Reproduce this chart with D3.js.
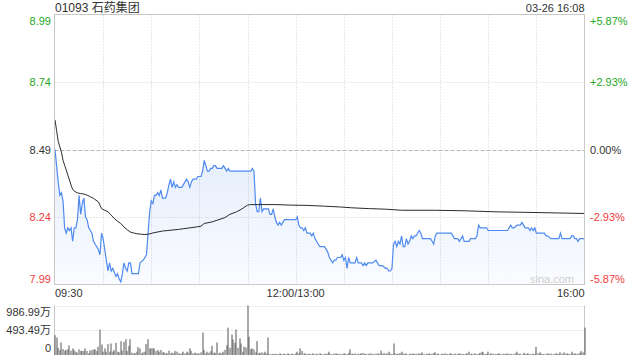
<!DOCTYPE html>
<html><head><meta charset="utf-8">
<script src="https://cdn.jsdelivr.net/npm/d3@7"></script>
<style>
body{margin:0;background:#fff}
svg{display:block}
text{font-family:"Liberation Sans",Arial,"Noto Sans CJK SC",sans-serif}
</style>
</head><body>
<svg id="c" width="640" height="360"></svg>
<script>
const title = "01093 石药集团";
const stamp = "03-26 16:08";
const priceTicks = [8.99, 8.74, 8.49, 8.24, 7.99];
const pctTicks = ["+5.87%", "+2.93%", "0.00%", "-2.93%", "-5.87%"];
const timeTickMinutes = [0, 150, 330];
const timeTickLabels = ["09:30", "12:00/13:00", "16:00"];
const volTicks = [986.99, 493.49, 0];
const volTickLabels = ["986.99万", "493.49万", "0"];
const prevClose = 8.49;

// [minute since 09:30 (lunch removed), price]
const price = [
[0,8.49],[2,8.37],[3,8.32],[4,8.33],[5,8.30],[6,8.20],[7,8.18],[8,8.20],[9,8.19],[10,8.20],
[11,8.15],[12,8.20],[13,8.20],[14,8.23],[15,8.32],[16,8.25],[17,8.29],[18,8.31],[19,8.24],[20,8.23],
[21,8.20],[22,8.19],[23,8.18],[24,8.15],[25,8.14],[26,8.13],[27,8.12],[28,8.10],[29,8.18],[30,8.16],
[31,8.12],[32,8.08],[33,8.04],[34,8.07],[35,8.04],[36,8.05],[38,8.02],[39,8.03],[40,8.01],[41,8.00],
[42,8.03],[43,8.07],[44,8.05],[45,8.04],[46,8.07],[47,8.07],[48,8.03],[49,8.03],[51,8.03],[52,8.03],
[53,8.07],[55,8.08],[56,8.09],[57,8.10],[58,8.18],[59,8.26],[60,8.30],[61,8.29],[62,8.32],[63,8.32],
[64,8.33],[65,8.32],[66,8.34],[67,8.31],[68,8.31],[69,8.31],[70,8.33],[71,8.36],[72,8.38],[73,8.35],
[74,8.37],[75,8.35],[76,8.36],[77,8.35],[78,8.35],[79,8.35],[80,8.36],[82,8.38],[83,8.37],[84,8.35],
[85,8.37],[86,8.38],[87,8.38],[88,8.38],[89,8.39],[90,8.39],[91,8.39],[92,8.41],[93,8.45],[94,8.43],
[95,8.41],[96,8.41],[97,8.42],[98,8.42],[99,8.43],[100,8.43],[101,8.42],[102,8.42],[103,8.42],[104,8.42],
[105,8.43],[106,8.42],[107,8.41],[108,8.42],[109,8.41],[122,8.41],[123,8.42],[124,8.41],[125,8.29],[126,8.26],
[127,8.26],[128,8.31],[129,8.26],[130,8.27],[131,8.27],[133,8.27],[134,8.25],[135,8.25],[136,8.27],[137,8.24],
[138,8.22],[139,8.21],[140,8.22],[141,8.21],[142,8.22],[143,8.23],[150,8.23],
[151,8.24],[152,8.21],[153,8.20],[154,8.20],[155,8.19],[156,8.20],[157,8.18],[158,8.18],[159,8.18],[160,8.17],
[161,8.18],[162,8.16],[164,8.14],[165,8.13],[166,8.13],[167,8.13],[168,8.13],[169,8.12],[170,8.11],[171,8.09],
[172,8.08],[173,8.07],[174,8.08],[175,8.08],[176,8.09],[177,8.09],[178,8.09],[179,8.10],[180,8.08],[181,8.09],
[182,8.05],[183,8.09],[184,8.07],[185,8.07],[187,8.07],[188,8.09],[189,8.07],[190,8.07],[191,8.07],[192,8.06],
[193,8.07],[194,8.06],[195,8.07],[197,8.07],[198,8.07],[200,8.08],[201,8.07],[202,8.06],[204,8.06],[206,8.05],
[207,8.05],[208,8.04],[209,8.04],[210,8.05],[211,8.14],[212,8.15],[213,8.13],[214,8.15],[215,8.14],[216,8.17],
[217,8.13],[218,8.13],[219,8.16],[220,8.14],[221,8.15],[222,8.17],[223,8.16],[224,8.17],[225,8.17],[226,8.18],
[227,8.19],[228,8.18],[229,8.16],[231,8.16],[233,8.16],[234,8.16],[235,8.15],[236,8.14],[237,8.17],[238,8.18],
[239,8.18],[240,8.18],[241,8.18],[242,8.18],[243,8.18],[245,8.18],[247,8.18],[248,8.17],[249,8.16],[251,8.16],
[252,8.15],[253,8.16],[254,8.17],[255,8.15],[256,8.15],[258,8.15],[259,8.16],[261,8.16],[262,8.16],[263,8.17],
[264,8.21],[265,8.20],[269,8.20],[270,8.19],[271,8.19],[282,8.19],[283,8.20],[284,8.21],[285,8.20],[286,8.20],
[288,8.21],[290,8.21],[291,8.22],[292,8.21],[293,8.20],[294,8.20],[295,8.20],[296,8.19],[297,8.20],[298,8.19],
[299,8.20],[300,8.18],[303,8.18],[305,8.18],[306,8.17],[307,8.17],[309,8.16],[313,8.16],[314,8.16],[315,8.18],
[316,8.16],[321,8.16],[322,8.17],[323,8.17],[324,8.16],[325,8.16],[326,8.15],[327,8.16],[330,8.16]
];

const avgPrice = [
[0,8.60],[1,8.56],[2,8.52],[4,8.48],[5,8.45],[6,8.432],[7,8.414],[8,8.395],[9,8.377],[10,8.358],
[11,8.343],[12,8.336],[14,8.329],[16,8.327],[18,8.325],[20,8.321],[22,8.315],[24,8.309],[27,8.296],[28,8.284],
[29,8.271],[31,8.265],[33,8.259],[35,8.247],[37,8.234],[39,8.224],[41,8.216],[43,8.203],[45,8.193],[47,8.184],
[49,8.181],[51,8.178],[54,8.176],[56,8.175],[58,8.176],[61,8.181],[67,8.188],[77,8.194],[88,8.203],[91,8.206],
[93,8.216],[98,8.222],[106,8.238],[109,8.250],[113,8.259],[116,8.268],[120,8.284],[122,8.286],[137,8.286],[147,8.284],
[157,8.283],[168,8.280],[178,8.277],[185,8.274],[196,8.271],[206,8.269],[216,8.265],[237,8.265],[255,8.263],[276,8.259],
[296,8.257],[330,8.253]
];

// volume per minute, in 万 shares, minute 0..330
const volume = [
395,349,145,99,250,118,86,99,118,191,
86,132,99,66,46,112,86,79,79,132,
79,33,92,99,112,112,79,165,507,211,
66,132,66,217,66,230,66,99,243,66,
53,276,86,263,316,79,184,316,46,33,
33,66,158,132,33,53,66,217,316,132,
132,132,132,79,99,66,99,53,53,33,
33,86,33,46,33,79,66,33,20,33,
66,33,66,46,132,79,33,46,33,33,
26,53,447,99,33,66,46,79,184,46,46,
250,33,46,33,66,99,197,546,145,408,
309,243,507,145,329,230,66,165,151,987,
362,118,132,112,53,276,33,46,53,33,
66,33,349,20,13,
20,26,13,20,33,20,13,26,20,33,20,13,26,20,33,
66,33,132,79,26,33,20,26,13,20,33,20,26,13,33,
20,13,26,20,33,66,20,13,26,33,20,26,13,20,33,
26,20,40,112,26,20,33,13,26,20,33,40,26,20,13,
26,33,20,13,26,33,20,86,26,40,20,33,66,26,20,
230,33,20,26,40,66,26,20,33,13,26,20,33,20,26,
20,33,26,53,20,13,26,33,20,26,40,53,20,26,13,
26,20,33,20,13,26,33,20,26,13,20,33,26,20,13,
26,33,66,20,26,13,33,20,26,40,66,53,20,26,66,
20,33,26,13,20,26,33,20,13,26,20,33,26,20,13,
26,33,66,20,26,13,46,20,26,33,20,13,26,20,165,
33,53,26,20,13,26,33,20,26,13,20,33,26,20,53,
26,53,20,33,26,20,66,26,33,20,26,40,79,53,546
];

const svg = d3.select("#c");
const L = 54.5, R = 584.5, T = 14.5, B = 284.5;
const VT = 305.5, VB = 355;
const x = d3.scaleLinear().domain([0, 330]).range([55, R]);
const y = d3.scaleLinear().domain([7.99, 8.99]).range([B, T]);
const vy = d3.scaleLinear().domain([0, 986.99]).range([VB, VT]);

const green = "#25a825", red = "#f03c3c", dark = "#333";
const colorFor = v => v > prevClose + 1e-9 ? green : (v < prevClose - 1e-9 ? red : dark);

// gradient
const defs = svg.append("defs");
const g = defs.append("linearGradient").attr("id","ag").attr("gradientUnits","userSpaceOnUse")
  .attr("x1",0).attr("x2",0).attr("y1",160).attr("y2",B);
g.append("stop").attr("offset",0).attr("stop-color","#5a8ff0").attr("stop-opacity",0.15);
g.append("stop").attr("offset",1).attr("stop-color","#5a8ff0").attr("stop-opacity",0.03);

// vertical grid
const vMinutes = d3.range(30, 330, 30);
svg.append("g").selectAll("line").data(vMinutes).join("line")
  .attr("x1", d => Math.round(x(d)) + 0.5).attr("x2", d => Math.round(x(d)) + 0.5)
  .attr("y1", T).attr("y2", B)
  .attr("stroke", "#cfcfcf").attr("stroke-dasharray", "1,2");

// horizontal grid
svg.append("g").selectAll("line").data(priceTicks.slice(1, 4)).join("line")
  .attr("x1", L).attr("x2", R)
  .attr("y1", d => Math.round(y(d)) + 0.5).attr("y2", d => Math.round(y(d)) + 0.5)
  .attr("stroke", d => d === prevClose ? "#b8b8b8" : "#cfcfcf")
  .attr("stroke-dasharray", d => d === prevClose ? "4,2" : "1,2");

// area + lines
const area = d3.area().x(d => x(d[0])).y0(B).y1(d => y(d[1]));
svg.append("path").datum(price).attr("d", area).attr("fill", "url(#ag)");

// watermark
svg.append("text").attr("x", 552).attr("y", 279).attr("text-anchor","middle")
  .attr("dominant-baseline","central").attr("font-size", 11).attr("fill","#cfcfcf").text("sina.com");

const line = d3.line().x(d => x(d[0])).y(d => y(d[1]));
svg.append("path").datum(price).attr("d", line).attr("fill","none")
  .attr("stroke","#4f8aef").attr("stroke-width",1.2);
svg.append("path").datum(avgPrice).attr("d", line).attr("fill","none")
  .attr("stroke","#2b2b2b").attr("stroke-width",1);

// frame
svg.append("rect").attr("x", L).attr("y", T).attr("width", R - L).attr("height", B - T)
  .attr("fill","none").attr("stroke","#c8c8c8");

// price labels
svg.append("g").selectAll("text").data(priceTicks).join("text")
  .attr("x", 51).attr("y", (d, i) => y(d) + (i === 0 ? 6 : i === priceTicks.length - 1 ? -6 : 0))
  .attr("text-anchor","end").attr("dominant-baseline","central").attr("font-size", 11)
  .attr("fill", d => colorFor(d)).text(d => d.toFixed(2));
svg.append("g").selectAll("text").data(pctTicks).join("text")
  .attr("x", 590).attr("y", (d, i) => y(priceTicks[i]) + (i === 0 ? 6 : i === pctTicks.length - 1 ? -6 : 0))
  .attr("dominant-baseline","central").attr("font-size", 11)
  .attr("fill", (d, i) => colorFor(priceTicks[i])).text(d => d);

// time labels
svg.append("g").selectAll("text").data(timeTickMinutes).join("text")
  .attr("x", (d, i) => i === 0 ? 55 : (i === timeTickMinutes.length - 1 ? R : x(d)))
  .attr("y", 293).attr("dominant-baseline","central")
  .attr("text-anchor", (d, i) => i === 0 ? "start" : (i === timeTickMinutes.length - 1 ? "end" : "middle"))
  .attr("font-size", 11).attr("fill", dark).text((d, i) => timeTickLabels[i]);

// title
svg.append("text").attr("x", 55).attr("y", 8).attr("dominant-baseline","central")
  .attr("font-size", 12).attr("fill", dark).text(title);
svg.append("text").attr("x", R).attr("y", 8).attr("dominant-baseline","central")
  .attr("text-anchor","end").attr("font-size", 11).attr("fill", dark).text(stamp);

// volume panel
svg.append("g").selectAll("line").data(volTicks.slice(0, 2)).join("line")
  .attr("x1", L).attr("x2", R)
  .attr("y1", d => Math.round(vy(d)) + 0.5).attr("y2", d => Math.round(vy(d)) + 0.5)
  .attr("stroke", "#cfcfcf").attr("stroke-dasharray", "1,2");
svg.append("line").attr("x1", L).attr("x2", L).attr("y1", VT).attr("y2", VB).attr("stroke", "#c8c8c8");
svg.append("line").attr("x1", R).attr("x2", R).attr("y1", VT).attr("y2", VB).attr("stroke", "#c8c8c8");
svg.append("g").selectAll("rect").data(volume).join("rect")
  .attr("x", (d, i) => Math.round(x(i)) - 0.5).attr("width", 1)
  .attr("y", d => vy(d)).attr("height", d => VB - vy(d))
  .attr("fill", "#555");
svg.append("g").selectAll("text").data(volTicks).join("text")
  .attr("x", 51).attr("y", (d, i) => vy(d) + (i === 0 ? 6 : i === volTicks.length - 1 ? -7 : 0))
  .attr("text-anchor","end").attr("dominant-baseline","central").attr("font-size", 11)
  .attr("fill", dark).text((d, i) => volTickLabels[i]);
</script>
</body></html>
